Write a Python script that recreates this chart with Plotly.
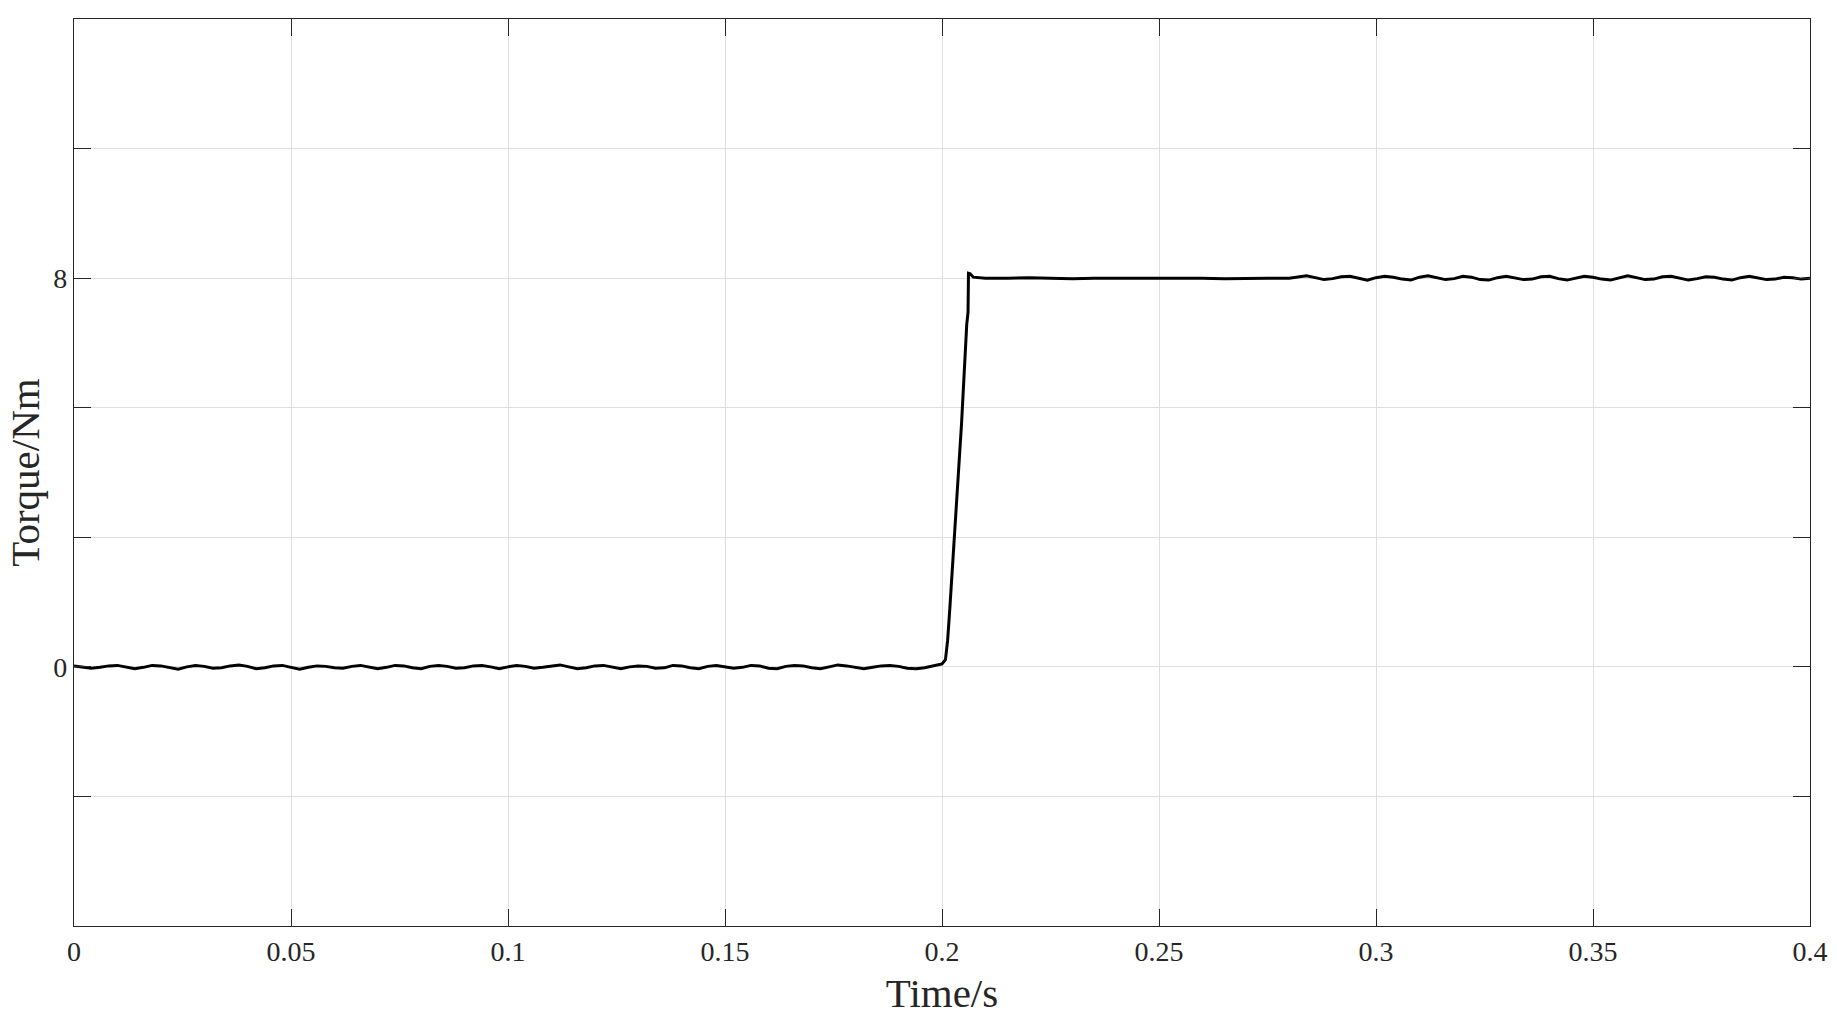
import plotly.graph_objects as go

# ---- data ----
# segment 1: idle, sampled every 2 ms from 0 to 0.2 s
seg1_start, seg1_step = 0.0, 0.002
seg1_torque = [
    0.02, 0.00, -0.03, -0.01, 0.02, 0.03, 0.00, -0.04, -0.01, 0.03,
    0.02, -0.02, -0.05, 0.00, 0.03, 0.01, -0.03, -0.02, 0.02, 0.04,
    0.01, -0.04, -0.02, 0.02, 0.03, -0.01, -0.05, -0.01, 0.02, 0.01,
    -0.02, -0.03, 0.01, 0.03, 0.00, -0.04, -0.01, 0.03, 0.02, -0.02,
    -0.04, 0.01, 0.03, 0.01, -0.03, -0.02, 0.02, 0.03, 0.00, -0.04,
    0.00, 0.03, 0.01, -0.03, -0.01, 0.02, 0.04, 0.00, -0.04, -0.02,
    0.02, 0.03, -0.01, -0.04, 0.00, 0.02, 0.01, -0.03, -0.02, 0.03,
    0.02, -0.02, -0.04, 0.01, 0.03, 0.00, -0.03, -0.01, 0.03, 0.02,
    -0.03, -0.04, 0.01, 0.03, 0.02, -0.02, -0.04, 0.00, 0.04, 0.02,
    -0.01, -0.04, -0.01, 0.02, 0.03, 0.01, -0.03, -0.04, -0.02, 0.02,
    0.06,
]
# segment 2: load step
seg2_time = [0.2008, 0.2013, 0.2018, 0.2030, 0.2045, 0.2057, 0.2060, 0.2061, 0.2065, 0.2072, 0.2085]
seg2_torque = [0.15, 0.55, 1.20, 2.80, 5.00, 7.05, 7.30, 8.10, 8.09, 8.02, 8.01]
# segment 3: steady state, 5 ms samples
seg3_start, seg3_step = 0.210, 0.005
seg3_torque = [8.00, 8.00, 8.01, 8.00, 7.99, 8.00, 8.00, 8.00, 8.01, 8.00, 8.00, 7.99, 8.00, 8.00]
# segment 4: rippled steady state, 2 ms samples from 0.28 to 0.4 s
seg4_start, seg4_step = 0.280, 0.002
seg4_torque = [
    8.00, 8.03, 8.05, 8.01, 7.97, 7.99, 8.03, 8.04, 8.00, 7.96,
    8.01, 8.04, 8.02, 7.98, 7.96, 8.02, 8.05, 8.01, 7.97, 7.99,
    8.04, 8.02, 7.97, 7.96, 8.01, 8.04, 8.01, 7.97, 7.98, 8.03,
    8.04, 7.99, 7.96, 8.00, 8.04, 8.02, 7.98, 7.96, 8.01, 8.05,
    8.01, 7.97, 7.98, 8.03, 8.04, 8.00, 7.96, 7.99, 8.03, 8.02,
    7.98, 7.96, 8.01, 8.04, 8.01, 7.97, 7.98, 8.02, 8.01, 7.98, 8.00,
]

x_tick_vals = [0, 0.05, 0.1, 0.15, 0.2, 0.25, 0.3, 0.35, 0.4]
x_tick_text = ["0", "0.05", "0.1", "0.15", "0.2", "0.25", "0.3", "0.35", "0.4"]
y_tick_vals = [-8 / 3, 0, 8 / 3, 16 / 3, 8, 32 / 3]
y_tick_text = ["", "0", "", "", "8", ""]

# ---- assemble ----
time_s = [round(seg1_start + i * seg1_step, 6) for i in range(len(seg1_torque))]
torque = list(seg1_torque)
time_s += seg2_time
torque += seg2_torque
time_s += [round(seg3_start + i * seg3_step, 6) for i in range(len(seg3_torque))]
torque += seg3_torque
time_s += [round(seg4_start + i * seg4_step, 6) for i in range(len(seg4_torque))]
torque += seg4_torque

FONT = "Liberation Serif, Times New Roman, serif"
AX = "#262626"
GRID = "#dedede"

fig = go.Figure()
fig.add_trace(go.Scatter(x=time_s, y=torque, mode="lines",
                         line=dict(color="black", width=3), showlegend=False))

fig.update_layout(
    width=1837, height=1020,
    margin=dict(l=74, r=27, t=19, b=94),
    paper_bgcolor="white", plot_bgcolor="white",
    font=dict(family=FONT, color=AX, size=28),
)
fig.update_xaxes(
    range=[0, 0.4], tickvals=x_tick_vals, ticktext=x_tick_text, automargin=False,
    ticks="inside", ticklen=17, tickcolor=AX, tickwidth=1,
    showline=True, linecolor=AX, linewidth=1.3, mirror="ticks",
    showgrid=True, gridcolor=GRID, gridwidth=1, zeroline=False,
    tickfont=dict(size=28, family=FONT, color=AX),
    title=dict(text="Time/s", font=dict(size=41, family=FONT, color=AX), standoff=12),
)
fig.update_yaxes(
    range=[-16 / 3, 40 / 3], tickvals=y_tick_vals, ticktext=y_tick_text, automargin=False,
    ticks="inside", ticklen=17, tickcolor=AX, tickwidth=1,
    showline=True, linecolor=AX, linewidth=1.3, mirror="ticks",
    showgrid=True, gridcolor=GRID, gridwidth=1, zeroline=False,
    tickfont=dict(size=28, family=FONT, color=AX),
    title=dict(text="Torque/Nm", font=dict(size=41, family=FONT, color=AX), standoff=0),
)

fig.write_html(
    "out.html",
    config={"displayModeBar": False},
    post_script="document.body.style.margin='0';document.body.style.overflow='hidden';",
)
